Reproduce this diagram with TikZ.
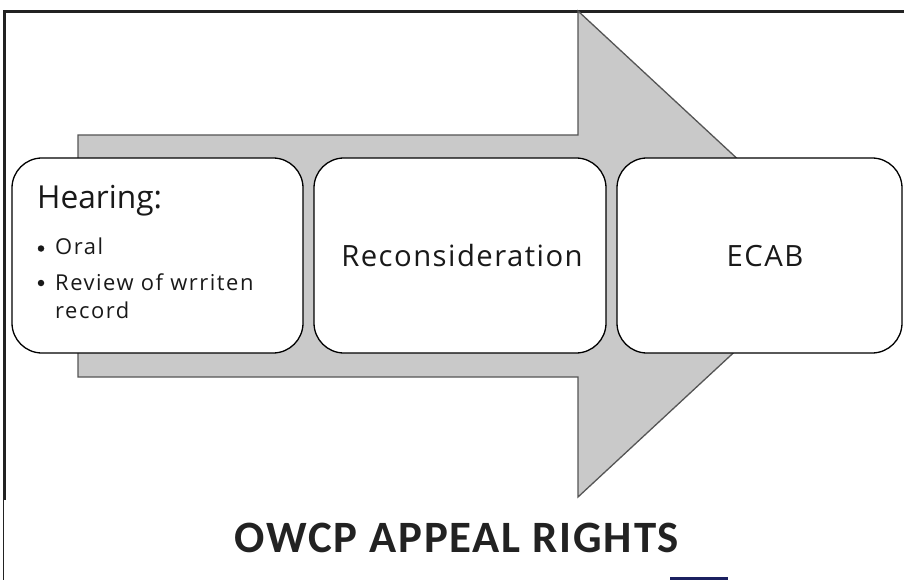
\documentclass[tikz,border=0pt]{standalone}
\usepackage{fontspec}
\setmainfont{Open Sans}
\newfontfamily\stagefont[LetterSpace=5]{Open Sans}
\newfontfamily\bulletfont[LetterSpace=7]{Open Sans}
\newfontfamily\titlefont[LetterSpace=4]{Carlito}
\definecolor{arrowfill}{HTML}{C9C9C9}
\definecolor{arrowline}{HTML}{555555}
\definecolor{framecol}{HTML}{222222}
\definecolor{navy}{HTML}{1B2060}
\tikzset{
  stagebox/.style={draw=black, line width=1.3bp, fill=white, rounded corners=30bp, inner sep=0pt},
  stagetext/.style={inner sep=0pt, text=black!90, font=\stagefont\fontsize{29.4}{36}\selectfont},
  headtext/.style={inner sep=0pt, anchor=base west, text=black!90, font=\fontsize{31.8}{38}\selectfont},
  bullettext/.style={inner sep=0pt, anchor=base west, text=black!90, font=\bulletfont\fontsize{22}{27}\selectfont},
  bulletdot/.style={circle, fill=black!90, inner sep=0pt, minimum size=6.5bp},
}
\begin{document}
\begin{tikzpicture}[x=1bp, y=-1bp]
\useasboundingbox (0,0) rectangle (904,580);
% frame
\draw[framecol, line width=3bp] (4.5,500) -- (4.5,11.5) -- (904,11.5);
\draw[framecol, line width=1.2bp] (3.5,500) -- (3.5,580);
% big arrow
\draw[fill=arrowfill, draw=arrowline, line width=1.3bp, line join=miter]
  (78,135) -- (578,135) -- (578,11) -- (840,254) -- (578,497) -- (578,377) -- (78,377) -- cycle;
% stage boxes
\node[stagebox, minimum width=291bp, minimum height=195bp] (hear) at (157.5,255.5) {};
\node[stagebox, minimum width=292bp, minimum height=195bp] (recon) at (460,255.5) {};
\node[stagebox, minimum width=285bp, minimum height=195bp] (ecab) at (759.5,255.5) {};
% texts
\node[headtext] (htitle) at (37,209) {Hearing:};
\node[bulletdot] (b1) at (41,248.5) {};
\node[bullettext] (oral) at (55,255) {Oral};
\node[bulletdot] (b2) at (41,283) {};
\node[bullettext] (rev) at (55,290) {Review of wrriten};
\node[bullettext] (rec) at (55,318.5) {record};
\node[stagetext, anchor=base] (rtext) at (462,267) {Reconsideration};
\node[stagetext, anchor=base] (etext) at (765,267) {ECAB};
% title
\node[inner sep=0pt, anchor=base, text=framecol, font=\titlefont\bfseries\fontsize{45}{54}\selectfont] (title) at (457,552) {OWCP APPEAL RIGHTS};
% navy bar
\fill[navy] (670,577) rectangle (728,580);
\end{tikzpicture}
\end{document}
